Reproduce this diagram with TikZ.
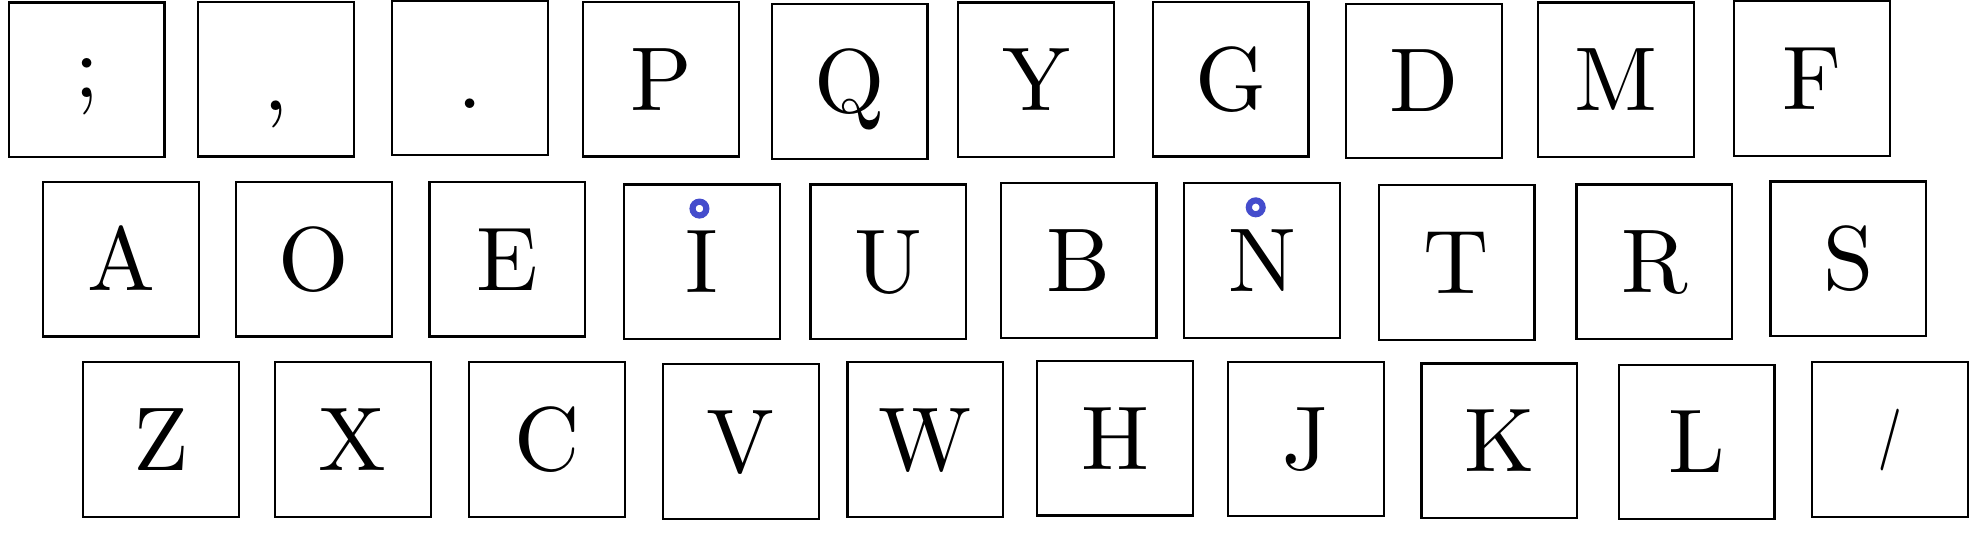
\documentclass[tikz,border=0pt]{standalone}
\usepackage{fontspec}
\setmainfont{lmroman10-regular.otf}[BoldFont=lmroman10-bold.otf]
\usepackage{tikz}
\usetikzlibrary{calc}
\definecolor{ringblue}{RGB}{68,76,204}
\newcommand{\shortslash}{\raisebox{0.17em}{\scalebox{0.45}[0.683]{\bfseries /}}}
\newcommand{\highsemi}{\raisebox{0.15em}{;}}

\begin{document}
\begin{tikzpicture}[x=0.01cm, y=-0.01cm,
  key/.style={draw, line width=0.5pt, minimum width=1.24cm, minimum height=1.23cm, inner sep=0pt,
    text height=14pt, text depth=0pt, font=\fontsize{20.5}{24}\selectfont},
  ringdot/.style={circle, draw=ringblue, line width=1.4pt, minimum size=0.11cm, inner sep=0pt}
]
  \useasboundingbox (0,0) rectangle (1568,432);

  % top row
  \node[key] (semi) at (69,63.5) {\highsemi};
  \node[key] (comma) at (220,63) {,};
  \node[key] (dot) at (374.5,62) {.};
  \node[key] (P) at (526.5,63) {P};
  \node[key] (Q) at (676.5,65) {Q};
  \node[key] (Y) at (825,63.5) {Y};
  \node[key] (G) at (980,63) {G};
  \node[key] (D) at (1134,64.5) {D};
  \node[key] (M) at (1287,63.5) {M};
  \node[key] (F) at (1443,62.5) {F};

  % middle row
  \node[key] (A) at (96.5,206.5) {A};
  \node[key] (O) at (250,206.5) {O};
  \node[key] (E) at (404,206.5) {E};
  \node[key] (I) at (559,208.5) {I};
  \node[key] (U) at (707.5,208.5) {U};
  \node[key] (B) at (859,207.5) {B};
  \node[key] (N) at (1005,207.5) {N};
  \node[key] (T) at (1160,209) {T};
  \node[key] (R) at (1317.5,208.5) {R};
  \node[key] (S) at (1472,206) {S};

  % bottom row
  \node[key] (Z) at (128,350) {Z};
  \node[key] (X) at (281,350) {X};
  \node[key] (C) at (435.5,350) {C};
  \node[key] (V) at (590,351.5) {V};
  \node[key] (W) at (737,350) {W};
  \node[key] (H) at (888,349) {H};
  \node[key] (J) at (1040,349.5) {J};
  \node[key] (K) at (1194,351) {K};
  \node[key] (L) at (1351,352) {L};
  \node[key] (slash) at (1505,350) {\shortslash};

  % rings over I and N
  \node[ringdot] (Iring) at ($(I.north)+(-2,20)$) {};
  \node[ringdot] (Nring) at ($(N.north)+(-5,20)$) {};
\end{tikzpicture}
\end{document}
